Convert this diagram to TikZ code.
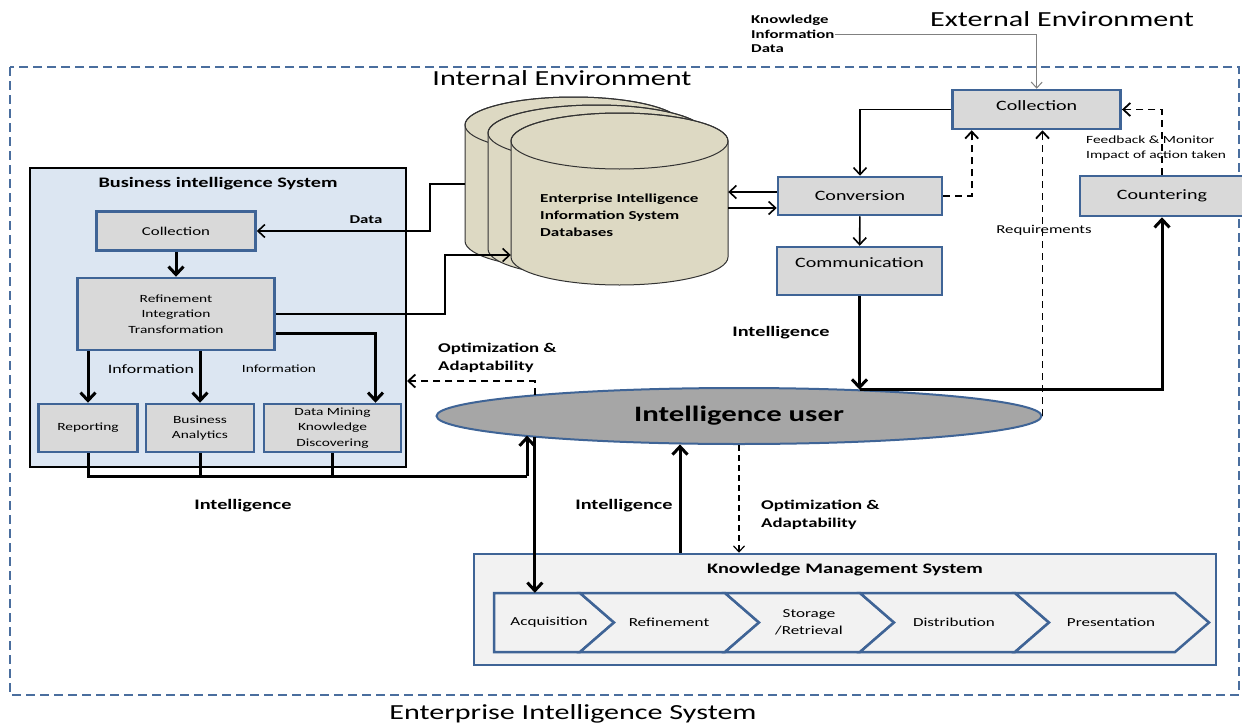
\documentclass[tikz,border=0pt]{standalone}
\usepackage{fontspec}
\setmainfont{Carlito}[FakeStretch=1.4]
\usepackage{tikz}
\usetikzlibrary{shapes,arrows.meta}

\definecolor{bordblue}{HTML}{3F6496}
\definecolor{boxgray}{HTML}{D9D9D9}
\definecolor{bisblue}{HTML}{DCE6F2}
\definecolor{dbtan}{HTML}{DDD9C3}
\definecolor{usergray}{HTML}{A6A6A6}
\definecolor{kmsgray}{HTML}{F2F2F2}
\definecolor{envblue}{HTML}{4A6E9E}

\tikzset{
  box/.style={draw=bordblue, fill=boxgray, line width=2.5pt, inner sep=0pt, align=center},
  rbox/.style={box, font=\fontsize{14.3}{17}\selectfont},
  bbox/.style={box, font=\fontsize{11}{15.5}\selectfont},
  big/.style={font=\fontsize{21.5}{25}\selectfont},
  ttl/.style={font=\bfseries\fontsize{14.5}{17}\selectfont},
  lbl/.style={font=\bfseries\fontsize{14.5}{17}\selectfont},
  opt/.style={font=\bfseries\fontsize{13.4}{18}\selectfont, align=left, inner sep=0pt},
  smb/.style={font=\bfseries\fontsize{12}{14.5}\selectfont, align=left, inner sep=0pt},
  chv/.style={font=\fontsize{12.2}{16.7}\selectfont, align=center, inner sep=0pt, minimum height=59},
  chevron/.style={draw=bordblue, fill=kmsgray, line width=2.5pt, line join=miter},
  thk/.style={line width=3pt, -{Straight Barb[length=8pt,width=15pt]}},
  thn/.style={line width=1.6pt, -{Straight Barb[length=7pt,width=13pt]}},
  dsh/.style={line width=1.8pt, dash pattern=on 7pt off 5pt, -{Straight Barb[length=7pt,width=13pt]}},
  dshthin/.style={line width=1.2pt, dash pattern=on 6pt off 4pt, -{Straight Barb[length=6pt,width=11pt]}}
}

\begin{document}
\begin{tikzpicture}[x=1pt,y=-1pt]
\useasboundingbox (0,0) rectangle (1242,728);

\draw[envblue, line width=2pt, dash pattern=on 9pt off 5pt] (10,67) rectangle (1239,695);
\node[big] (ext) at (1062,19) {External Environment};
\node[big] (int) at (562,78) {Internal Environment};
\node[big] (eis) at (573,714) {Enterprise Intelligence System};

\foreach \dx/\dy in {-46/-16,-23/-8,0/0} {
  \begin{scope}[shift={(\dx,\dy)}]
    \filldraw[fill=dbtan, draw=black!80, line width=1pt] (511,141) -- (511,257)
      arc[start angle=180, end angle=0, x radius=108.5, y radius=28] -- (728,141)
      arc[start angle=0, end angle=-180, x radius=108.5, y radius=28] -- cycle;
    \draw[black!80, line width=1pt] (619.5,141) ellipse[x radius=108.5, y radius=28];
  \end{scope}
}
\node[minimum width=217, minimum height=172, inner sep=0pt] (db) at (619.5,199) {};
\coordinate (dbback) at (465,184);
\node[smb, font=\bfseries\fontsize{12.2}{17}\selectfont, anchor=west] (dbT) at (540,215) {Enterprise Intelligence\\Information System\\Databases};

\node[draw=black, fill=bisblue, line width=2pt, minimum width=376, minimum height=299, inner sep=0pt] (bis) at (218,317.5) {};
\node[ttl] (bisT) at (218,184) {Business intelligence System};
\node[box, font=\fontsize{12}{15}\selectfont, minimum width=159, minimum height=39] (bcol) at (176,231) {Collection};
\node[bbox, minimum width=197, minimum height=72] (ref) at (176,314) {Refinement\\Integration\\Transformation};
\node[bbox, minimum width=99, minimum height=48] (rep) at (88,428) {Reporting};
\node[bbox, minimum width=108, minimum height=48] (ba) at (200,428) {Business\\Analytics};
\node[bbox, minimum width=137, minimum height=48] (dm) at (332.5,428) {Data Mining\\Knowledge\\Discovering};
\node[font=\fontsize{12.8}{15}\selectfont] (inf1) at (151,369) {Information};
\node[font=\fontsize{11}{13}\selectfont] (inf2) at (279,369) {Information};
\node[smb] (dat) at (366,220) {Data};

\node[rbox, minimum width=168, minimum height=39, text depth=7pt] (colR) at (1036.7,109.5) {Collection};
\node[rbox, minimum width=164, minimum height=38] (conv) at (860,196) {Conversion};
\node[rbox, minimum width=165, minimum height=48, text depth=16pt] (comm) at (859.5,271) {Communication};
\node[rbox, minimum width=164, minimum height=40] (coun) at (1162,196) {Countering};
\node[smb, anchor=west] (kid) at (751,34) {Knowledge\\Information\\Data};
\node[font=\fontsize{11}{15}\selectfont, align=left, inner sep=0pt, anchor=west] (fb) at (1086,148.5) {Feedback \& Monitor\\Impact of action taken};
\node[font=\fontsize{12}{14}\selectfont] (req) at (1044,230) {Requirements};
\node[lbl] (intl3) at (781,333) {Intelligence};

\node[ellipse, draw=bordblue, fill=usergray, line width=2pt, minimum width=605, minimum height=56, inner sep=0pt, font=\bfseries\fontsize{22}{26}\selectfont] (iu) at (739,416) {Intelligence user};
\node[opt, anchor=west] (opt1) at (438,358) {Optimization \&\\Adaptability};
\node[opt, anchor=west] (opt2) at (761,515) {Optimization \&\\Adaptability};
\node[lbl] (intl1) at (243,506) {Intelligence};
\node[lbl] (intl2) at (624,506) {Intelligence};

\node[draw=bordblue, fill=kmsgray, line width=2.5pt, minimum width=742, minimum height=111, inner sep=0pt] (kms) at (845,609.5) {};
\node[ttl] (kmsT) at (845,570) {Knowledge Management System};
\draw[chevron] (494,593) -- (580,593) -- (614,622.5) -- (580,652) -- (494,652) -- cycle;
\foreach \a/\b in {580/725,725/860,860/1015,1015/1175}
  \draw[chevron] (\a,593) -- (\b,593) -- (\b+34,622.5) -- (\b,652) -- (\a,652) -- (\a+34,622.5) -- cycle;
\node[chv] (acq) at (549,622.5) {Acquisition};
\node[chv] (kref) at (669,622.5) {Refinement};
\node[chv] (sto) at (809,622.5) {Storage\\/Retrieval};
\node[chv] (dis) at (954,622.5) {Distribution};
\node[chv] (pre) at (1111,622.5) {Presentation};

\draw[thk] (bcol) -- (ref);
\draw[thk] (ref.south -| rep) -- (rep);
\draw[thk] (ref.south -| ba.north) -- (ba.north);
\draw[thk] ([yshift=-19]ref.east) -| ([xshift=43]dm.north);
\coordinate (biout) at (527,476);
\draw[line width=3pt] (rep.south) |- (biout);
\draw[line width=3pt] (ba.south) -- (ba.south |- biout);
\draw[line width=3pt] (dm.south) -- (dm.south |- biout);
\draw[thk] (biout) -- (biout |- iu.185.4);
\draw[thn] (dbback) -- ++(-35,0) |- (bcol.east);
\draw[thn] (ref.east) -- ++(169,0) |- ([yshift=-56]db.west);
\coordinate (optA) at (527,381);
\draw[dsh] (iu.174.6) -- (iu.174.6 |- optA) -- (optA -| bis.east);

\draw[gray, line width=1pt, -{Straight Barb[length=6pt,width=11pt]}] (kid.east) -| (colR.north);
\draw[thn] (colR.west) -| (conv.north);
\draw[thn] (conv) -- (comm);
\draw[dsh] (conv.east) -| ([xshift=-65]colR.south);
\draw[dsh] (iu.east) -- (iu.east |- colR.south);
\draw[dsh] (coun.north) |- (colR.east);
\draw[thn] ([yshift=4]conv.west) -- ([yshift=4]conv.west -| db.east);
\draw[thn] ([yshift=-12]conv.west -| db.east) -- ([yshift=-12]conv.west);
\draw[thk] (comm.south) -- (comm.south |- iu.12);
\draw[thk] (comm.south |- iu.12) -| (coun.south);

\draw[thk] (iu.186.2) -- (iu.186.2 |- acq.north);
\draw[thk] ([xshift=-165]kms.north) -- ([xshift=-165]kms.north |- iu.205);
\draw[dshthin] (iu.south) -- (iu.south |- kms.north);
\end{tikzpicture}
\end{document}
